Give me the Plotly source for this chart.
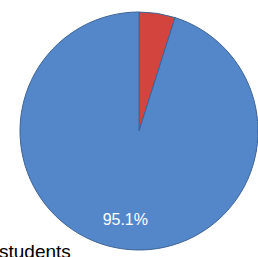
import plotly.graph_objects as go

labels = ["Other", "Students"]
values = [4.9, 95.1]
colors = ["#D4443F", "#5487CA"]
label_text = ["", "95.1%"]

dom = dict(x=[20/258, 1], y=[7/257, 245/257])

fig = go.Figure()
fig.add_trace(go.Pie(
    labels=labels,
    values=values,
    textinfo="none",
    marker=dict(colors=colors, line=dict(color="#3D6494", width=1)),
    sort=False,
    direction="clockwise",
    rotation=0,
    showlegend=False,
    domain=dom,
    hoverinfo="skip",
))
# transparent ring carrying the percentage label
fig.add_trace(go.Pie(
    labels=labels,
    values=values,
    text=label_text,
    textinfo="text",
    textposition="inside",
    insidetextorientation="horizontal",
    textfont=dict(family="Liberation Sans, Arial, sans-serif", size=16, color="white"),
    marker=dict(colors=["rgba(0,0,0,0)", "rgba(0,0,0,0)"], line=dict(width=0)),
    hole=0.5,
    sort=False,
    direction="clockwise",
    rotation=0,
    showlegend=False,
    domain=dom,
    hoverinfo="skip",
))

fig.add_annotation(
    text="students", xref="paper", yref="paper", x=0, y=0,
    xanchor="left", yanchor="top", showarrow=False, xshift=-3, yshift=18,
    font=dict(family="Liberation Sans, Arial, sans-serif", size=19, color="black"),
)

fig.update_layout(
    width=258, height=257,
    margin=dict(l=0, r=0, t=0, b=0),
    paper_bgcolor="white", plot_bgcolor="white",
)

fig.write_html("out.html", config={"displayModeBar": False},
               post_script="document.body.style.margin='0';")
